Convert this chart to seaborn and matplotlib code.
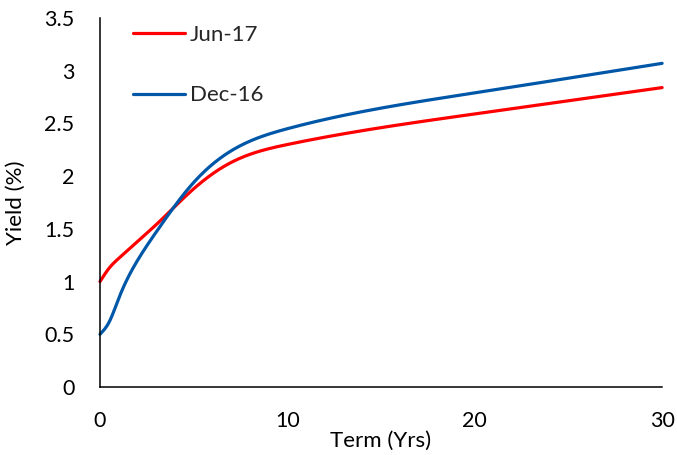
import numpy as np
import pandas as pd
import matplotlib
matplotlib.use("Agg")
import matplotlib.pyplot as plt
import seaborn as sns

# Treasury yield curves by term (years)
term_yrs = [0, 0.5, 1, 2, 3, 5, 7, 10, 20, 30]
yield_jun17 = [1.00, 1.13, 1.22, 1.38, 1.54, 1.88, 2.13, 2.30, 2.59, 2.84]
yield_dec16 = [0.50, 0.62, 0.84, 1.20, 1.47, 1.94, 2.24, 2.45, 2.79, 3.07]
series_labels = ["Jun-17", "Dec-16"]
series_colors = ["#FF0000", "#0057A8"]
x_ticks = [0, 10, 20, 30]
y_ticks = [0, 0.5, 1, 1.5, 2, 2.5, 3, 3.5]


def smooth_curve(x, y, n=40):
    """Natural cubic spline through the points, sampled for a smooth line."""
    x = np.asarray(x, float)
    y = np.asarray(y, float)
    k = len(x)
    h = np.diff(x)
    A = np.zeros((k, k))
    b = np.zeros(k)
    A[0, 0] = A[-1, -1] = 1.0
    for i in range(1, k - 1):
        A[i, i - 1] = h[i - 1]
        A[i, i] = 2 * (h[i - 1] + h[i])
        A[i, i + 1] = h[i]
        b[i] = 6 * ((y[i + 1] - y[i]) / h[i] - (y[i] - y[i - 1]) / h[i - 1])
    M = np.linalg.solve(A, b)
    xs, ys = [], []
    for i in range(k - 1):
        t = np.linspace(x[i], x[i + 1], n)
        if i > 0:
            t = t[1:]
        a = x[i + 1] - t
        c = t - x[i]
        s = (M[i] * a ** 3 + M[i + 1] * c ** 3) / (6 * h[i]) \
            + (y[i] / h[i] - M[i] * h[i] / 6) * a \
            + (y[i + 1] / h[i] - M[i + 1] * h[i] / 6) * c
        xs.append(t)
        ys.append(s)
    return np.concatenate(xs), np.concatenate(ys)


frames = []
for label, ys in zip(series_labels, [yield_jun17, yield_dec16]):
    xs, yv = smooth_curve(term_yrs, ys)
    frames.append(pd.DataFrame({"Term": xs, "Yield": yv, "Series": label}))
df = pd.concat(frames, ignore_index=True)

sns.set_theme(style="white")
plt.rcParams["font.family"] = ["Lato", "DejaVu Sans"]

fig = plt.figure(figsize=(6.77, 4.55), dpi=100)
ax = fig.add_axes([0.1477, 0.1495, 0.978 - 0.1477, 0.9604 - 0.1495])

sns.lineplot(data=df, x="Term", y="Yield", hue="Series", sort=False,
             estimator=None, units="Series", hue_order=series_labels,
             palette=series_colors, linewidth=2.3, ax=ax, clip_on=False)

ax.set_xlim(0, 30)
ax.set_ylim(0, 3.5)
ax.set_xticks(x_ticks)
ax.set_yticks(y_ticks)
ax.set_xticklabels([str(v) for v in x_ticks])
ax.set_yticklabels([f"{v:g}" for v in y_ticks])

for side in ["top", "right"]:
    ax.spines[side].set_visible(False)
for side in ["left", "bottom"]:
    ax.spines[side].set_color("black")
    ax.spines[side].set_linewidth(1.1)

ax.tick_params(axis="both", which="major", direction="out", length=5.5,
               width=1.1, color="black", labelsize=15.5, labelcolor="black")
ax.tick_params(axis="y", pad=13)
ax.tick_params(axis="x", pad=12)

ax.set_xlabel("Term (Yrs)", fontsize=16, color="black")
ax.set_ylabel("Yield (%)", fontsize=16, color="black")
ax.xaxis.set_label_coords(0.5, -0.147)
ax.xaxis.label.set_va("center")
ax.yaxis.set_label_coords(-0.150, 0.5)
ax.yaxis.label.set_va("center")

leg = ax.legend(loc="upper left", bbox_to_anchor=(0.0427, 1.005), frameon=False,
                fontsize=16, handlelength=2.34, handletextpad=0.23,
                labelspacing=1.81, borderaxespad=0)
for line in leg.get_lines():
    line.set_linewidth(2.3)

fig.savefig("out.png", dpi=100)
